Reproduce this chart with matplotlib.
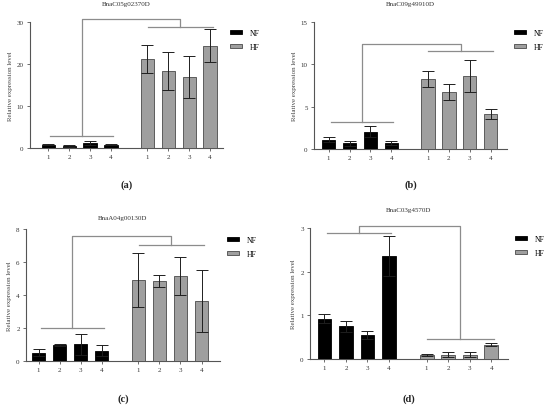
import matplotlib

matplotlib.use("Agg")
import matplotlib.pyplot as plt
import numpy as np

plt.rcParams["font.family"] = ["Liberation Serif", "DejaVu Serif"]

GENES = ["BnaC05g02370D", "BnaC09g49910D", "BnaA04g00130D", "BnaC03g4570D"]
PANEL_TAGS = ["a", "b", "c", "d"]
SAMPLES = ["1", "2", "3", "4"]

NF_A = [0.8, 0.5, 1.15, 0.8]
NF_A_ERR = [0.1, 0.3, 0.45, 0.2]
HF_A = [21.2, 18.3, 16.9, 24.4]
HF_A_ERR = [3.4, 4.5, 5.0, 3.9]

NF_B = [1.07, 0.67, 2.06, 0.71]
NF_B_ERR = [0.3, 0.33, 0.67, 0.29]
HF_B = [8.27, 6.73, 8.63, 4.12]
HF_B_ERR = [1.0, 1.0, 1.9, 0.6]

NF_C = [0.51, 0.97, 1.02, 0.63]
NF_C_ERR = [0.22, 0.07, 0.64, 0.34]
HF_C = [4.91, 4.83, 5.16, 3.65]
HF_C_ERR = [1.65, 0.36, 1.15, 1.87]

NF_D = [0.92, 0.75, 0.54, 2.35]
NF_D_ERR = [0.1, 0.13, 0.09, 0.46]
HF_D = [0.1, 0.1, 0.1, 0.33]
HF_D_ERR = [0.02, 0.05, 0.05, 0.03]

YMAX = [30, 15, 8, 3]
YSTEP = [10, 5, 2, 1]
BRACKET_NF = [2.8, 3.17, 1.97, 2.89]
BRACKET_HF = [28.8, 11.55, 7.03, 0.46]
BRACKET_TOP = [30.6, 12.4, 7.57, 3.04]

NF_ALL = [NF_A, NF_B, NF_C, NF_D]
NF_ERR_ALL = [NF_A_ERR, NF_B_ERR, NF_C_ERR, NF_D_ERR]
HF_ALL = [HF_A, HF_B, HF_C, HF_D]
HF_ERR_ALL = [HF_A_ERR, HF_B_ERR, HF_C_ERR, HF_D_ERR]

# axes boxes in pixels: left, top, right, bottom
BOXES = [(30, 23, 223, 149), (314, 23, 507, 150),
         (26, 230, 220, 362), (310, 229, 508, 360)]
XLIMS = [(-0.88, 8.37), (-0.7, 8.53), (-0.6, 8.63), (-0.67, 8.53)]
TITLE_PAD = [12, 12, 7, 12]
TAG_Y = [185, 185, 399, 399]
W, H = 550, 406
LINE = "#8c8c8c"
AXC = "#555555"

fig = plt.figure(figsize=(W / 100, H / 100), dpi=100)
fig.patch.set_facecolor("white")

x_nf = np.arange(4)
x_hf = np.arange(4) + 4.75

for i in range(4):
    l, t, r, b = BOXES[i]
    ax = fig.add_axes([l / W, 1 - b / H, (r - l) / W, (b - t) / H])
    ekw = dict(ecolor="#1e1e1e", elinewidth=0.7, capthick=0.7)
    ax.bar(x_nf, NF_ALL[i], width=0.64, color="black", edgecolor="black",
           linewidth=0.6, yerr=NF_ERR_ALL[i], capsize=4.3, error_kw=ekw,
           label="NF", zorder=3)
    ax.bar(x_hf, HF_ALL[i], width=0.64, color="#9f9f9f", edgecolor="#4a4a4a",
           linewidth=0.6, yerr=HF_ERR_ALL[i], capsize=4.3, error_kw=ekw,
           label="HF", zorder=3)

    # significance brackets
    n0, n1 = x_nf[0] + 0.1, x_nf[3] + 0.1
    h0, h1 = x_hf[0] + 0.02, x_hf[3] + 0.12
    nc, hc = (n0 + n1) / 2, (h0 + h1) / 2
    yn, yh, yt = BRACKET_NF[i], BRACKET_HF[i], BRACKET_TOP[i]
    kw = dict(color=LINE, linewidth=0.9, clip_on=False, zorder=4)
    ax.plot([n0, n1], [yn, yn], **kw)
    ax.plot([h0, h1], [yh, yh], **kw)
    ax.plot([nc, nc, hc, hc], [yn, yt, yt, yh], **kw)

    ax.set_xlim(*XLIMS[i])
    ax.set_ylim(0, YMAX[i])
    ax.set_yticks(np.arange(0, YMAX[i] + 0.01, YSTEP[i]))
    ax.set_xticks(list(x_nf) + list(x_hf))
    ax.set_xticklabels(SAMPLES + SAMPLES)
    for s in ("top", "right"):
        ax.spines[s].set_visible(False)
    for s in ("left", "bottom"):
        ax.spines[s].set_color(AXC)
        ax.spines[s].set_linewidth(0.8)
    ax.tick_params(labelsize=5, length=2.5, width=0.6, color=AXC,
                   labelcolor="#333333", pad=2)
    ax.set_ylabel("Relative expression level", fontsize=5, color="#444444",
                  labelpad=3)
    ax.set_title(GENES[i], fontsize=5, color="#333333", pad=TITLE_PAD[i])
    ax.legend(loc="upper left", bbox_to_anchor=(1.0, 1.0), frameon=False,
              fontsize=5.5, handlelength=1.6, handleheight=0.45,
              labelspacing=0.75, handletextpad=1.0)

    cx = (l + r) / 2
    fig.text(cx / W, 1 - TAG_Y[i] / H, f"({PANEL_TAGS[i]})", ha="center",
             va="center", fontsize=7.5, fontweight="bold", color="#222222")

fig.savefig("out.png", dpi=100, facecolor="white")
